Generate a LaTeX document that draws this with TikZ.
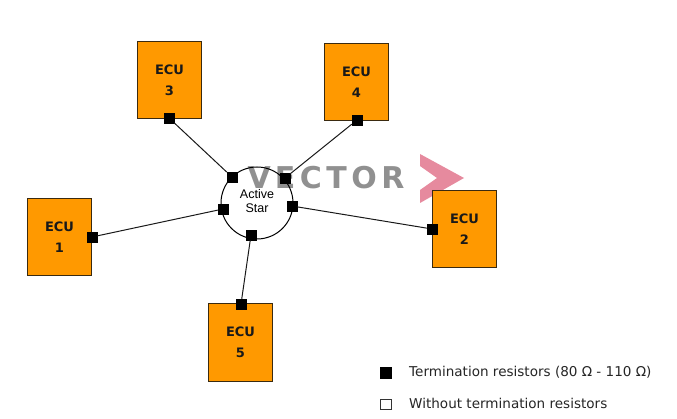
\documentclass[tikz,border=0pt]{standalone}
\usepackage{fontspec}
\setmainfont{DejaVu Sans}
\newfontfamily\starfont{Liberation Sans}
\definecolor{ecuorange}{HTML}{FF9900}
\definecolor{ecuedge}{HTML}{3A2A10}
\definecolor{wmgrey}{HTML}{909090}
\definecolor{wmpink}{HTML}{E68A9E}
\tikzset{
  x=1pt,y=-1pt,
  ecubox/.style={draw=ecuedge,line width=1pt,fill=ecuorange,minimum width=64.5pt,minimum height=77.5pt,inner sep=0pt,
    align=center,font=\bfseries\fontsize{13}{21}\selectfont,text=black!90},
  termfill/.style={draw=black,fill=black,minimum size=10pt,inner sep=0pt},
  termopen/.style={draw=black!80,line width=1pt,fill=white,minimum size=10.5pt,inner sep=0pt},
  link/.style={draw=black!90,line width=1pt},
  legendtext/.style={anchor=west,inner sep=0pt,font=\fontsize{13.55}{15}\selectfont,text=black!85},
  wmletter/.style={inner sep=0pt,font=\bfseries\fontsize{30}{30}\selectfont,text=wmgrey}
}
\begin{document}
\begin{tikzpicture}
\useasboundingbox (0,0) rectangle (677,419);
% watermark
\node[wmletter] (wm) at (326,178) {V\kern4pt E\kern4.5pt C\kern4.5pt T\kern4.5pt O\kern4.5pt R};
\fill[wmpink] (420,154) -- (464,178) -- (420,203) -- (420,190) -- (437,178) -- (420,166) -- cycle;
% star
\node[draw=black,line width=1pt,circle,minimum size=72pt,inner sep=0pt,align=center,
  font=\starfont\fontsize{12.5}{14}\selectfont] (star) at (257,203) {\raisebox{4pt}{\shortstack{Active\\[3pt]Star}}};
% ECUs
\node[ecubox] (e3) at (169.5,80) {ECU\\3};
\node[ecubox] (e4) at (356.5,82) {ECU\\4};
\node[ecubox] (e1) at (59.5,237) {ECU\\1};
\node[ecubox] (e2) at (464.5,229) {ECU\\2};
\node[ecubox] (e5) at (240.5,342.5) {ECU\\5};
% terminations
\node[termfill] (t3) at (169,118) {};
\node[termfill] (t4) at (357,120) {};
\node[termfill] (t1) at (92,237) {};
\node[termfill] (t2) at (432,229) {};
\node[termfill] (t5) at (241,304) {};
\node[termfill] (s3) at (232,177) {};
\node[termfill] (s4) at (285,178) {};
\node[termfill] (s1) at (223,209) {};
\node[termfill] (s2) at (292,206) {};
\node[termfill] (s5) at (251,235) {};
% links
\draw[link] (t3) -- (s3);
\draw[link] (t4) -- (s4);
\draw[link] (t1) -- (s1);
\draw[link] (t2) -- (s2);
\draw[link] (t5) -- (s5);
% legend
\node[termfill,minimum size=11pt] (lf) at (386,373) {};
\node[termopen] (lo) at (386,404.5) {};
\node[legendtext] (lt1) at (409,372.5) {Termination resistors (80 Ω - 110 Ω)};
\node[legendtext] (lt2) at (409,403.5) {Without termination resistors};
\end{tikzpicture}
\end{document}
